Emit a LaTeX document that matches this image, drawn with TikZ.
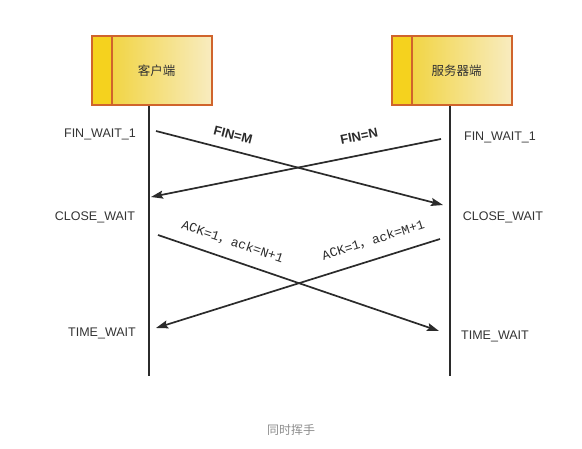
\documentclass[tikz,border=0pt]{standalone}
\usepackage{fontspec}
\setmainfont{Liberation Sans}
\newfontfamily\cjk{Noto Sans CJK SC}
\newfontfamily\monof{Liberation Mono}
\usetikzlibrary{positioning,arrows.meta}
\definecolor{linecol}{HTML}{2B2B2B}
\definecolor{boxedge}{HTML}{D0642C}
\definecolor{stripcol}{HTML}{F5D21E}
\definecolor{shadeL}{HTML}{F0D02C}
\definecolor{shadeR}{HTML}{F8ECC0}
\definecolor{txtcol}{HTML}{333333}
\tikzset{
  hostbox/.style={draw=boxedge,line width=1.3pt,minimum width=120pt,minimum height=69pt,inner sep=0pt,
    left color=shadeL,right color=shadeR,text=txtcol,font=\cjk\fontsize{12.5}{14}\selectfont,
    execute at begin node={\hspace*{9pt}},
    path picture={
      \fill[stripcol] (path picture bounding box.north west) rectangle ([xshift=20pt]path picture bounding box.south west);
      \draw[boxedge,line width=1.3pt] ([xshift=20pt]path picture bounding box.north west) -- ([xshift=20pt]path picture bounding box.south west);
    }},
  lifeline/.style={linecol,line width=1.7pt},
  msg/.style={linecol,line width=1.7pt,-{Stealth[length=12pt,width=8pt,inset=2pt]}},
  state/.style={text=txtcol,font=\fontsize{12.5}{14}\selectfont},
  finlbl/.style={sloped,text=linecol,font=\bfseries\fontsize{13}{15}\selectfont},
  acklbl/.style={sloped,text=linecol,font=\monof\fontsize{13}{15}\selectfont},
}

\begin{document}
\begin{tikzpicture}[x=1pt,y=-1pt]
  \useasboundingbox (0,0) rectangle (582,448);
  % 两端
  \node[hostbox] (cli) at (152,70.5) {客户端};
  \node[hostbox] (srv) at (452,70.5) {服务器端};
  \coordinate (cliend) at (149,376);
  \coordinate (srvend) at (450,376);
  \draw[lifeline] (cli.south -| cliend) -- (cliend);
  \draw[lifeline] (srv.south -| srvend) -- (srvend);
  % 状态
  \node[state] (lfw) at (100,134) {FIN\_WAIT\_1};
  \node[state] (lcw) at (95,217) {CLOSE\_WAIT};
  \node[state] (ltw) at (102,333) {TIME\_WAIT};
  \node[state] (rfw) at (500,137) {FIN\_WAIT\_1};
  \node[state] (rcw) at (503,217) {CLOSE\_WAIT};
  \node[state] (rtw) at (495,336) {TIME\_WAIT};
  % 报文端点
  \coordinate (finm-s) at (156,131);  \coordinate (finm-e) at (443,205);
  \coordinate (finn-s) at (441,139);  \coordinate (finn-e) at (151,197);
  \coordinate (ackn-s) at (158,235);  \coordinate (ackn-e) at (439,331);
  \coordinate (ackm-s) at (440,239);  \coordinate (ackm-e) at (156,328);
  % FIN
  \draw[msg] (finm-s) -- node[finlbl,pos=0.255,above=7pt] {FIN=M} (finm-e);
  \draw[msg] (finn-s) -- node[finlbl,pos=0.27,above=10pt] {FIN=N} (finn-e);
  % ACK
  \draw[msg] (ackn-s) -- node[acklbl,pos=0.245,above=8pt] {ACK=1{\cjk ，}ack=N+1} (ackn-e);
  \draw[msg] (ackm-s) -- node[acklbl,pos=0.215,above=9pt] {ACK=1{\cjk ，}ack=M+1} (ackm-e);
  % 标题
  \node[text=black!45,font=\cjk\fontsize{12}{14}\selectfont] (cap) at (291,430) {同时挥手};
\end{tikzpicture}
\end{document}
